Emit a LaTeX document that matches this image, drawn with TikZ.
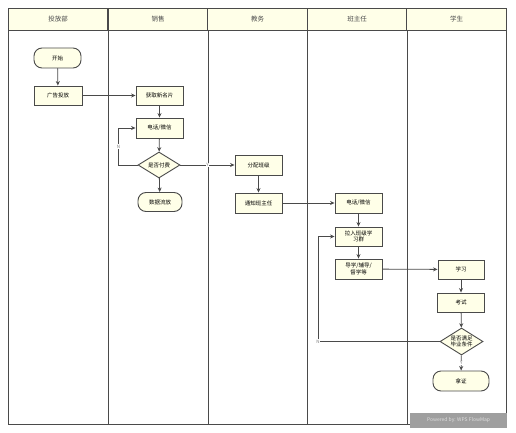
\documentclass[tikz,border=0pt]{standalone}
\usepackage{fontspec}
\setmainfont{Noto Sans CJK SC}
\usepackage{xcolor}
\usetikzlibrary{shapes.geometric,arrows.meta,positioning}
\definecolor{cream}{HTML}{FFFFE8}
\definecolor{edge}{HTML}{4A4A4A}

\begin{document}
\begin{tikzpicture}[x=1pt, y=-1pt, font=\fontsize{5.5}{6.5}\selectfont, box/.style={draw=edge, fill=cream, line width=0.9pt, align=center, minimum width=47pt, minimum height=20pt, inner sep=1pt}, term/.style={box, rounded corners=8pt}, decide/.style={draw=edge, fill=cream, line width=0.9pt, diamond, aspect=1.6, align=center, inner sep=0pt, minimum width=43pt, minimum height=27pt}, head/.style={draw=edge, fill=cream, line width=0.8pt, minimum width=99.6pt, minimum height=22pt, font=\fontsize{6.5}{7}\selectfont, text=edge}, arr/.style={-{Stealth[length=4.5pt,width=4pt]}, draw=edge, line width=0.8pt}, yn/.style={fill=white, inner sep=0.6pt, font=\fontsize{4.5}{5}\selectfont, text=gray}]
\useasboundingbox (0,0) rectangle (516,433);
% lanes
\node[head] (h1) at (58,19) {投放部};
\node[head] (h2) at (158,19) {销售};
\node[head] (h3) at (257.5,19) {教务};
\node[head] (h4) at (357,19) {班主任};
\node[head] (h5) at (456.5,19) {学生};
\draw[edge, line width=0.8pt] (8,30) rectangle (506,424);
\foreach \x in {108,208,307,407}
  \draw[edge, line width=0.8pt] (\x,30) -- (\x,424);
% steps
\node[term, minimum width=47pt] (start) at (57.5,58) {开始};
\node[box, minimum width=48pt, minimum height=19pt] (ad) at (58,95.5) {广告投放};
\node[box, minimum height=19pt] (card) at (159.5,95.5) {获取新名片};
\node[box] (call) at (159.5,128) {电话/微信};
\node[decide, minimum width=42pt, minimum height=26pt] (pay) at (159,165) {是否付费};
\node[term, minimum width=44pt, minimum height=19pt] (drop) at (160,202) {数据流放};
\node[box] (assign) at (258.5,165) {分配班级};
\node[box] (notify) at (258.5,203) {通知班主任};
\node[box] (call2) at (358.5,203) {电话/微信};
\node[box, minimum height=19pt] (group) at (358.5,236.5) {拉入班级学\\习群};
\node[box] (guide) at (358.5,269) {导学/辅导/\\督学等};
\node[box, minimum width=46pt, minimum height=19pt] (study) at (461,269.5) {学习};
\node[box, minimum width=47pt, minimum height=19pt] (exam) at (461,302.5) {考试};
\node[decide] (grad) at (461.5,341.5) {是否满足\\毕业条件};
\node[term, minimum width=56pt] (cert) at (461,381) {拿证};
\coordinate (back) at (318,341.5);
% flow
\draw[arr] (start) -- (ad);
\draw[arr] (ad) -- (card);
\draw[arr] (card) -- (call);
\draw[arr] (call) -- (pay);
\draw[arr] (pay.west) -- ++(-19,0) |- node[yn, pos=0.25] {N} (call.west);
\draw[arr] (pay) -- node[yn] {Y} (assign);
\draw[arr] (pay) -- (drop);
\draw[arr] (assign) -- (notify);
\draw[arr] (notify) -- (call2);
\draw[arr] (call2) -- (group);
\draw[arr] (group) -- (guide);
\draw[arr] (guide) -- (study);
\draw[arr] (study) -- (exam);
\draw[arr] (exam) -- (grad);
\draw[arr] (grad.west) -- (back) |- (group.west);
\node[yn] (no) at (back) {N};
\draw[arr] (grad) -- node[yn] {Y} (cert);
% watermark
\node[fill=gray!75, text=gray!25, minimum width=97pt, minimum height=15pt, inner sep=0pt, font=\fontsize{5}{5}\selectfont] (wm) at (458.5,420.5) {Powered by: WPS FlowMap};
\end{tikzpicture}
\end{document}
